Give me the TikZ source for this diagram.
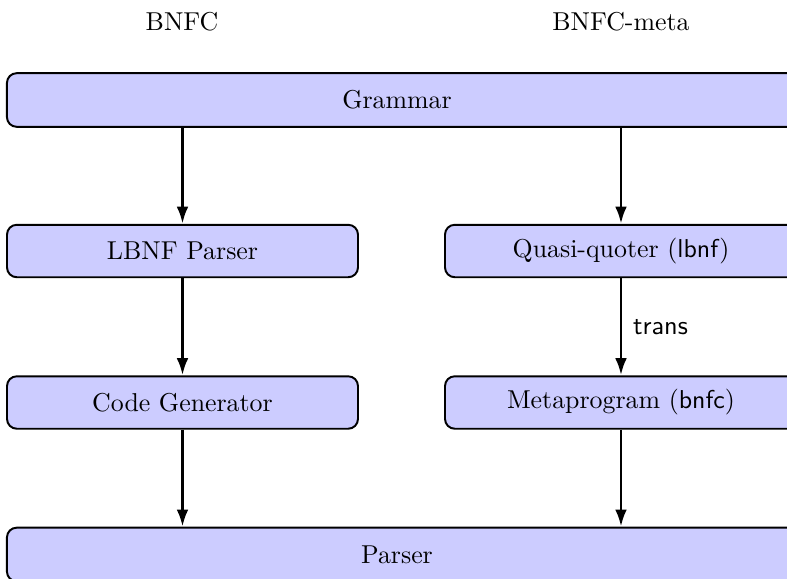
\documentclass[tikz,border=0pt]{standalone}
\usetikzlibrary{arrows.meta}
\begin{document}
\begin{tikzpicture}[x=0.41pt,y=-0.41pt,
  every node/.style={font=\fontsize{10.6}{12.7}\selectfont},
  box/.style={draw=black, fill=blue!20, rounded corners=4pt, line width=0.8pt,
    inner sep=0pt},
  wide/.style={box, minimum width=326.4pt, minimum height=22pt},
  half/.style={box, minimum width=143.9pt, minimum height=21.5pt},
  halfr/.style={box, minimum width=147.6pt, minimum height=21.5pt},
  arr/.style={-{Latex[length=7pt,width=4.8pt]}, line width=1.2pt}]
\useasboundingbox (0,0) rectangle (787,578);
\clip (0,0) rectangle (787,578);
\node (bnfc) at (182,22) {BNFC};
\node (meta) at (621,22) {BNFC-meta};
\node[wide] (grammar) at (405,100) {};
\node (grammart) at (397,100) {Grammar};
\node[half] (lbnf) at (182.5,251) {LBNF Parser};
\node[halfr] (quasi) at (625,251) {};
\node (quasit) at (621,251) {Quasi-quoter (\textsf{lbnf})};
\node[half] (codegen) at (182.5,402.5) {Code Generator};
\node[halfr] (metaprog) at (625,402.5) {};
\node (metaprogt) at (621,402.5) {Metaprogram (\textsf{bnfc})};
\node[wide] (parser) at (405,554.5) {};
\node (parsert) at (397,554.5) {Parser};
\coordinate (qn) at (quasit |- quasi.north);
\coordinate (qs) at (quasit |- quasi.south);
\coordinate (mn) at (metaprogt |- metaprog.north);
\coordinate (ms) at (metaprogt |- metaprog.south);
\draw[arr] (grammar.south -| lbnf.north) -- (lbnf.north);
\draw[arr] (grammar.south -| qn) -- (qn);
\draw[arr] (lbnf) -- (codegen);
\draw[arr] (qs) -- node[right, xshift=1pt, font=\fontsize{10.8}{13}\sffamily] {trans} (mn);
\draw[arr] (codegen.south) -- (codegen.south |- parser.north);
\draw[arr] (ms) -- (ms |- parser.north);
\end{tikzpicture}
\end{document}
